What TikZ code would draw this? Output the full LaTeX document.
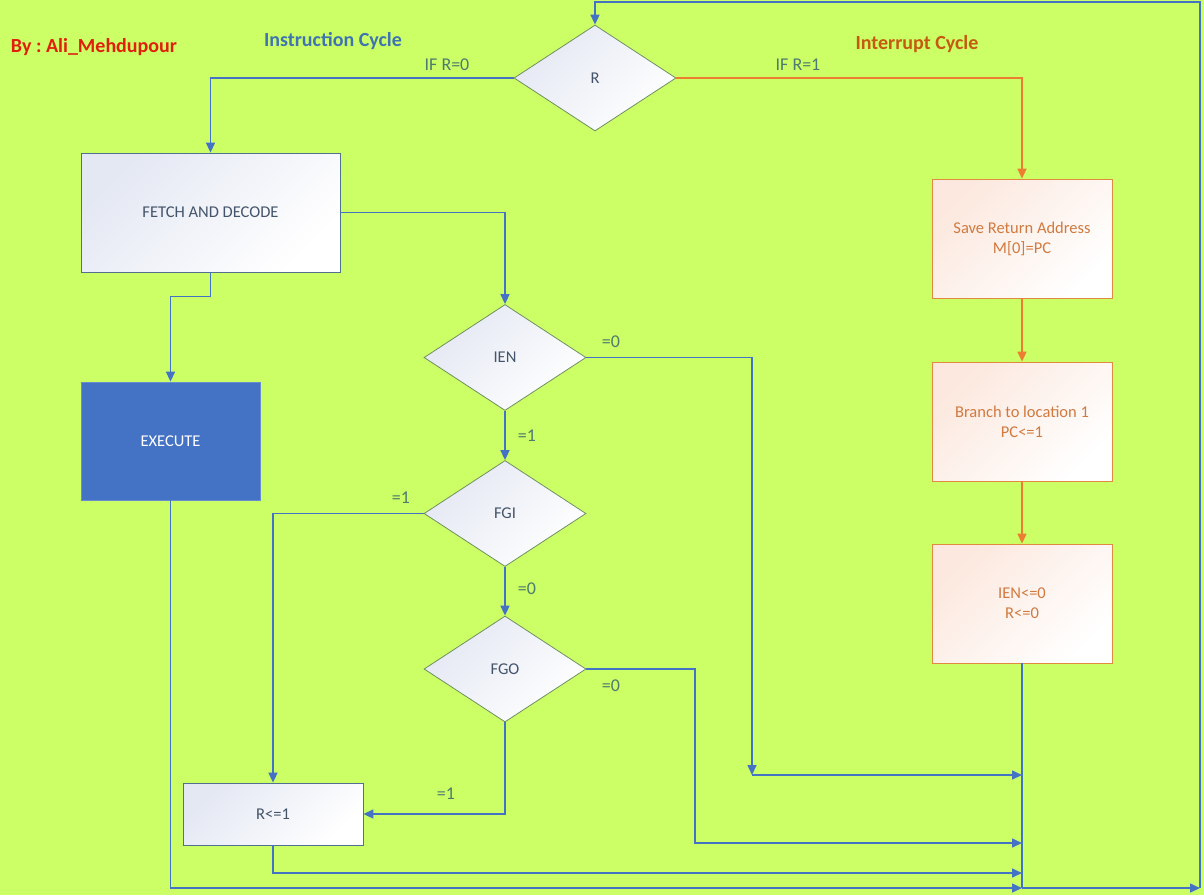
\documentclass[tikz,border=0pt]{standalone}
\usepackage{fontspec}
\setmainfont{Carlito}
\frenchspacing
\usetikzlibrary{arrows.meta,shapes.geometric}
\definecolor{bg}{HTML}{CCFF66}
\definecolor{cnc}{HTML}{4472C4}
\definecolor{occ}{HTML}{ED7D31}
\definecolor{txc}{HTML}{44546A}
\definecolor{lbc}{HTML}{4F7A6E}
\definecolor{dbd}{HTML}{6F8F5F}
\definecolor{bbd}{HTML}{52708F}
\definecolor{obd}{HTML}{E08A40}
\definecolor{otx}{HTML}{D07A40}
\definecolor{byc}{HTML}{E0200C}
\definecolor{icc}{HTML}{3F74B0}
\definecolor{irc}{HTML}{C55A11}
\definecolor{bsh}{HTML}{E4E8F3}
\definecolor{osh}{HTML}{FCE8DE}
\tikzset{
  cn/.style={draw=cnc, line width=1.5pt, -{Triangle[length=10pt,width=9pt]}},
  cnp/.style={draw=cnc, line width=1.5pt},
  ocn/.style={draw=occ, line width=1.5pt, -{Triangle[length=10pt,width=9pt]}},
  bluebox/.style={rectangle, draw=bbd, line width=0.8pt, top color=bsh, middle color=white, bottom color=white, shading angle=45,
    text=txc, font=\fontsize{16.5}{19}\selectfont, inner sep=0pt},
  exbox/.style={rectangle, fill=cnc, draw=cnc!80!white, line width=0.8pt, text=white,
    font=\fontsize{16.5}{19}\selectfont, minimum width=179pt, minimum height=118pt, inner sep=0pt},
  orbox/.style={rectangle, draw=obd, line width=0.8pt, top color=osh, middle color=white, bottom color=white, shading angle=45,
    text=otx, font=\fontsize{16.5}{20}\selectfont, align=center, minimum width=180pt, minimum height=119pt, inner sep=0pt},
  decis/.style={diamond, draw=dbd, line width=0.8pt, top color=bsh, middle color=white, bottom color=white, shading angle=45,
    text=txc, font=\fontsize{16.5}{19}\selectfont, minimum width=162pt, minimum height=106pt, inner sep=0pt},
  lbl/.style={text=lbc, font=\fontsize{18}{20}\selectfont, inner sep=0pt},
  ttl/.style={font=\bfseries\fontsize{20}{22}\selectfont, inner sep=0pt}
}
\begin{document}
\begin{tikzpicture}[x=1pt,y=-1pt]
\fill[bg] (0,0) rectangle (1204,895);
\useasboundingbox (0,0) rectangle (1204,895);

% titles
\node[ttl, text=byc] (by) at (94,47) {By : Ali\_Mehdupour};
\node[ttl, text=icc] (ic) at (333,41) {Instruction Cycle};
\node[ttl, text=irc] (irc) at (917,44) {Interrupt Cycle};

% nodes
\node[decis] (R) at (595,78) {R};
\node[bluebox, minimum width=259pt, minimum height=119pt] (FD) at (210.5,212.5) {FETCH AND DECODE};
\node[exbox] (EX) at (170.5,441) {EXECUTE};
\node[decis] (IEN) at (505,357.5) {IEN};
\node[decis] (FGI) at (505,513.5) {FGI};
\node[decis] (FGO) at (505,669) {FGO};
\node[bluebox, minimum width=180pt, minimum height=62pt] (R1) at (273,814) {R<=1};
\node[orbox] (SRA) at (1022,238.5) {Save Return Address\\M[0]=PC};
\node[orbox] (BR) at (1022,421.5) {Branch to location 1\\PC<=1};
\node[orbox] (IR) at (1022,603.5) {IEN<=0\\R<=0};

% junction coordinates
\coordinate (J1) at (752,775);
\coordinate (J1r) at (1022,775);
\coordinate (J2) at (695,843);
\coordinate (J2r) at (1022,843);
\coordinate (J3) at (1022,873);
\coordinate (J4) at (1022,888);
\coordinate (J5) at (1200,888);
\coordinate (J6) at (1200,2);

% instruction cycle connectors
\draw[cn] (R.west) -| (FD.north);
\draw[cn] (FD.east) -| (IEN.north);
\draw[cn] (FD.south) -- ++(0,24) -| (EX.north);
\draw[cn] (EX.south) |- (J4);
\draw[cn] (IEN.east) -| (J1);
\draw[cn] (J1) -- (J1r);
\draw[cn] (IEN.south) -- (FGI.north);
\draw[cn] (FGI.west) -| (R1.north);
\draw[cn] (FGI.south) -- (FGO.north);
\draw[cn] (FGO.east) -| (J2) -- (J2r);
\draw[cn] (FGO.south) |- (R1.east);
\draw[cn] (R1.south) |- (J3);

% interrupt cycle connectors
\draw[ocn] (R.east) -| (SRA.north);
\draw[ocn] (SRA.south) -- (BR.north);
\draw[ocn] (BR.south) -- (IR.north);

% return loop
\draw[cnp] (IR.south) -- (J4);
\draw[cn] (J4) -- (J5);
\draw[cn] (J5) -- (J6) -| (R.north);

% labels
\node[lbl] (l1) at (447,65) {IF R=0};
\node[lbl] (l2) at (798,65) {IF R=1};
\node[lbl] (l3) at (611,342) {=0};
\node[lbl] (l4) at (527,436) {=1};
\node[lbl] (l5) at (401,498) {=1};
\node[lbl] (l6) at (527,589) {=0};
\node[lbl] (l7) at (611,686) {=0};
\node[lbl] (l8) at (446,794) {=1};
\end{tikzpicture}
\end{document}
